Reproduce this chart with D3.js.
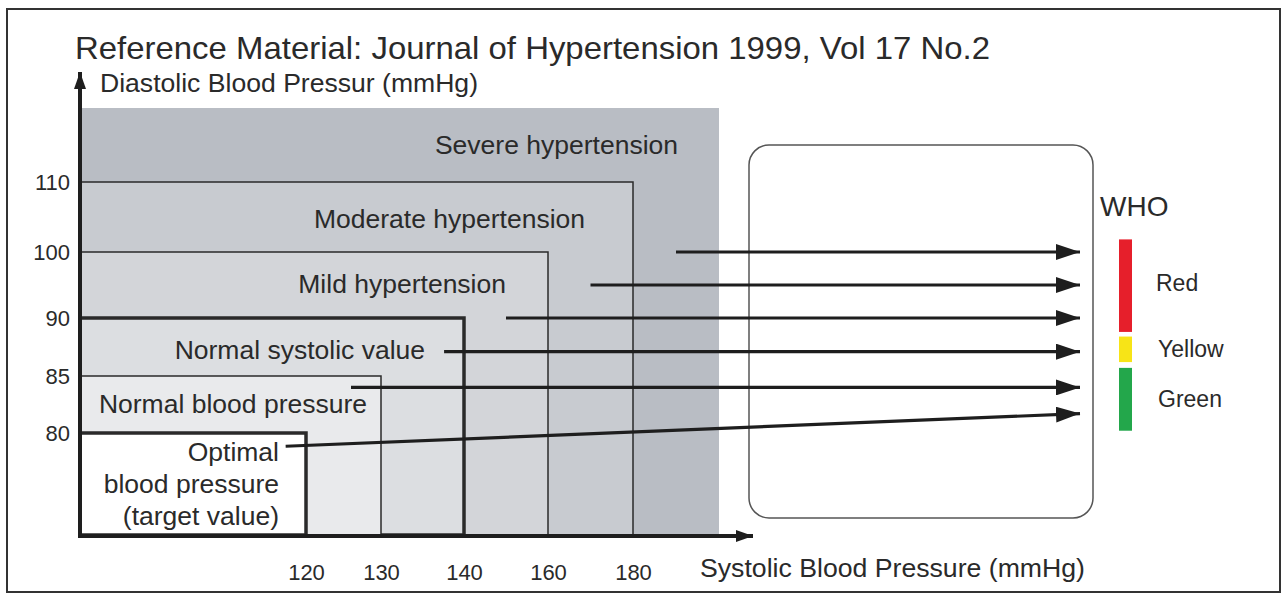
<!DOCTYPE html>
<html><head><meta charset="utf-8">
<script src="https://cdn.jsdelivr.net/npm/d3@7"></script>
<style>
body{margin:0;background:#fff}
svg{display:block}
text{font-family:"Liberation Sans",Arial,Helvetica,sans-serif;fill:#2a2a2a}
</style>
</head><body>
<svg id="chart" width="1287" height="595"></svg>
<script>
// ---------- data ----------
const chartTitle = "Reference Material: Journal of Hypertension 1999, Vol 17 No.2";
const yAxisTitle = "Diastolic Blood Pressur (mmHg)";
const xAxisTitle = "Systolic Blood Pressure (mmHg)";
const categories = ["Severe hypertension","Moderate hypertension","Mild hypertension",
                    "Normal systolic value","Normal blood pressure","Optimal blood pressure (target value)"];
const categoryLabelLines = [["Severe hypertension"],["Moderate hypertension"],["Mild hypertension"],
                    ["Normal systolic value"],["Normal blood pressure"],["Optimal","blood pressure","(target value)"]];
const systolicUpper = [190,180,160,140,130,120];   // 190 = open end of chart
const diastolicUpper = [120,110,100,90,85,80];     // 120 = open end of chart
const xTickValues = [120,130,140,160,180];
const yTickValues = [80,85,90,100,110];
// annotation arrows (data coordinates: systolic / diastolic)
const arrowStartSys = [185,170,150,137.6,126,118.2];
const arrowStartDia = [100,95,90,87.1,84,78.7];
const arrowEndDia   = [100,95,90,87.1,84,81.7];
const whoTitle = "WHO";
const whoLabels = ["Red","Yellow","Green"];
const whoColors = ["#e61f2b","#f7e417","#23a74b"];
const whoTopDia = [101.8,88.4,85.7];
const whoBottomDia = [88.8,86.2,80.2];

// ---------- style / layout ----------
const fills = ["#b9bdc4","#c8cbd0","#d3d5d9","#dcdee1","#e9eaec","#ffffff"];
const strokeW = [0,1.5,1.5,3.5,1.5,3.5];
const labelDx = [-41,-48,-42,-39,-14,-27];
const labelDy = [46,46,41,41,37,28];
const labelSize = 26.5;

const svg = d3.select("#chart");

// piecewise linear scales (the reference uses non-uniform spacing)
const x = d3.scaleLinear().domain([100,120,130,140,160,180,190]).range([80,306,381,464,548,633,719]);
const y = d3.scaleLinear().domain([70,80,85,90,100,110,120]).range([535,433,376,318,252,182,108]);

// outer frame
svg.append("rect").attr("x",7).attr("y",9).attr("width",1273).attr("height",583)
   .attr("fill","none").attr("stroke","#333").attr("stroke-width",2);

// title
svg.append("text").attr("x",75).attr("y",59).attr("font-size",32)
   .attr("textLength",915).attr("lengthAdjust","spacingAndGlyphs").text(chartTitle);

// category regions
const regions = categories.map((c,i)=>({c,i,sys:systolicUpper[i],dia:diastolicUpper[i]}));
svg.append("g").selectAll("rect").data(regions).join("rect")
   .attr("x",x(100)).attr("y",d=>y(d.dia))
   .attr("width",d=>x(d.sys)-x(100)).attr("height",d=>y(70)-y(d.dia))
   .attr("fill",d=>fills[d.i])
   .attr("stroke",d=>strokeW[d.i]?"#2a2a2a":"none")
   .attr("stroke-width",d=>strokeW[d.i]);

// category labels
const lg = svg.append("g");
regions.forEach(d=>{
  const t = lg.append("text").attr("text-anchor","end").attr("font-size",labelSize)
     .attr("x",x(d.sys)+labelDx[d.i]).attr("y",y(d.dia)+labelDy[d.i]);
  categoryLabelLines[d.i].forEach((line,k)=>{
    t.append("tspan").attr("x",x(d.sys)+labelDx[d.i]).attr("dy",k?32:0).text(line);
  });
});

// axes (tick labels only)
const gx = svg.append("g").attr("transform",`translate(0,536)`)
   .call(d3.axisBottom(x).tickValues(xTickValues).tickSize(0).tickPadding(28));
gx.select(".domain").remove();
gx.selectAll("text").attr("font-size",22).attr("font-family",null).attr("fill","#2a2a2a");
const gy = svg.append("g").attr("transform",`translate(80,0)`)
   .call(d3.axisLeft(y).tickValues(yTickValues).tickSize(0).tickPadding(10));
gy.select(".domain").remove();
gy.selectAll("text").attr("font-size",22).attr("font-family",null).attr("fill","#2a2a2a");

// axis arrows
const defs = svg.append("defs");
function head(id,w,h){
  defs.append("marker").attr("id",id).attr("viewBox",`0 0 ${w} ${h}`)
    .attr("refX",w).attr("refY",h/2).attr("markerWidth",w).attr("markerHeight",h)
    .attr("markerUnits","userSpaceOnUse").attr("orient","auto")
    .append("path").attr("d",`M0,0L${w},${h/2}L0,${h}Z`).attr("fill","#1e1e1e");
}
head("axhead",17,12);
head("arhead",24,16);

svg.append("line").attr("x1",x(100)).attr("y1",538).attr("x2",x(100)).attr("y2",72)
   .attr("stroke","#1e1e1e").attr("stroke-width",4).attr("marker-end","url(#axhead)");
svg.append("line").attr("x1",78).attr("y1",536).attr("x2",753).attr("y2",536)
   .attr("stroke","#1e1e1e").attr("stroke-width",4).attr("marker-end","url(#axhead)");

svg.append("text").attr("x",100).attr("y",92).attr("font-size",labelSize)
   .attr("textLength",378).attr("lengthAdjust","spacingAndGlyphs").text(yAxisTitle);
svg.append("text").attr("x",700).attr("y",577).attr("font-size",labelSize)
   .attr("textLength",385).attr("lengthAdjust","spacingAndGlyphs").text(xAxisTitle);

// WHO panel
svg.append("rect").attr("x",749).attr("y",145).attr("width",344).attr("height",373)
   .attr("rx",20).attr("ry",20).attr("fill","none").attr("stroke","#555").attr("stroke-width",1.5);

const tipX = 1080;
svg.append("g").selectAll("line").data(arrowStartSys).join("line")
   .attr("x1",(d)=>x(d)).attr("y1",(d,i)=>y(arrowStartDia[i]))
   .attr("x2",tipX).attr("y2",(d,i)=>y(arrowEndDia[i]))
   .attr("stroke","#1e1e1e").attr("stroke-width",3.2).attr("marker-end","url(#arhead)");

svg.append("text").attr("x",1100).attr("y",216).attr("font-size",28).text(whoTitle);
const who = whoLabels.map((l,i)=>({l,i}));
svg.append("g").selectAll("rect").data(who).join("rect")
   .attr("x",1119).attr("width",13)
   .attr("y",d=>y(whoTopDia[d.i])).attr("height",d=>y(whoBottomDia[d.i])-y(whoTopDia[d.i]))
   .attr("fill",d=>whoColors[d.i]);
svg.append("g").selectAll("text").data(who).join("text")
   .attr("x",d=>d.i?1158:1156).attr("font-size",23)
   .attr("y",d=>(y(whoTopDia[d.i])+y(whoBottomDia[d.i]))/2+ (d.i?8:5))
   .text(d=>d.l);
</script>
</body></html>
